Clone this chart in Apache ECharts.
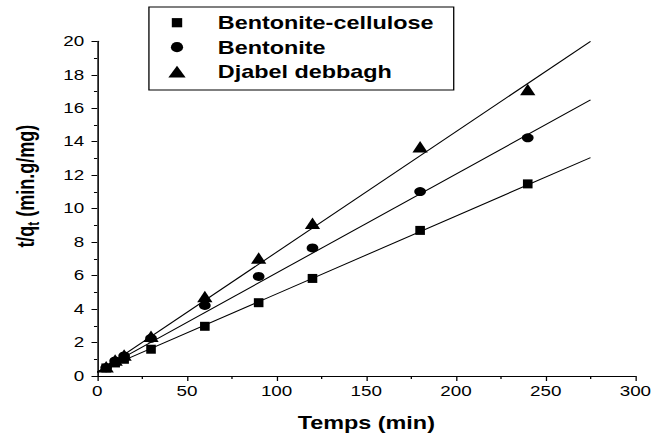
<!DOCTYPE html>
<html>
<head>
<meta charset="utf-8">
<script src="https://cdn.jsdelivr.net/npm/echarts@6/dist/echarts.min.js"></script>
<style>
  html, body { margin: 0; padding: 0; background: #fff; overflow: hidden; }
  #wrap { position: absolute; left: 0; top: 0; width: 655px; height: 437px; overflow: hidden; }
  /* the figure is drawn on a narrower canvas and widened horizontally */
  #chart { position: absolute; left: 0; top: 0; width: 504px; height: 437px;
           transform: scaleX(1.2996); transform-origin: 0 0; }
</style>
</head>
<body>
<div id="wrap"><div id="chart"></div></div>
<script>
// contact time (min)
const times = [5, 10, 15, 30, 60, 90, 120, 180, 240];

// t/qt (min.g/mg) measured for each adsorbent
const bentoniteCellulose = [0.48, 0.78, 1.0, 1.6, 2.97, 4.38, 5.83, 8.7, 11.48];
const bentonite = [0.5, 0.9, 1.2, 2.25, 4.22, 5.95, 7.65, 11.02, 14.23];
const djabelDebbagh = [0.55, 0.95, 1.25, 2.38, 4.75, 7.05, 9.13, 13.7, 17.12];

// pseudo-second-order linear fits, evaluated at the ends of the fitted range
const fitX = [0, 275];
const fitBentoniteCellulose = [0.25, 13.05];
const fitBentonite = [0.25, 16.5];
const fitDjabelDebbagh = [0.2, 20.0];

const seriesNames = ['Bentonite-cellulose', 'Bentonite', 'Djabel debbagh'];

const FONT = '"Liberation Sans", Arial, Helvetica, sans-serif';

function pairs(xs, ys) { return xs.map((x, i) => [x, ys[i]]); }

const chart = echarts.init(document.getElementById('chart'), null, { renderer: 'svg' });

const fitLine = (name, ys) => ({
  name: name,
  type: 'line',
  data: pairs(fitX, ys),
  symbol: 'none',
  silent: true,
  lineStyle: { color: '#000', width: 1 },
  z: 2
});

const points = (name, ys, symbol, size) => ({
  name: name,
  type: 'scatter',
  data: pairs(times, ys),
  symbol: symbol,
  symbolSize: size,
  symbolKeepAspect: false,
  itemStyle: { color: '#000', opacity: 1 },
  z: 3
});

chart.setOption({
  animation: false,
  backgroundColor: '#fff',
  grid: { left: 71, right: 12.5, top: 41.3, bottom: 59.3 },
  legend: {
    orient: 'vertical',
    align: 'left',
    left: 114.6,
    top: 7,
    padding: [5.7, 15.5, 8.3, 8],
    itemWidth: 40,
    itemHeight: 12,
    itemGap: 4.5,
    symbolKeepAspect: true,
    borderColor: '#000',
    borderWidth: 1,
    selectedMode: false,
    itemStyle: { opacity: 1 },
    textStyle: { color: '#000', fontFamily: FONT, fontWeight: 'bold', fontSize: 18, lineHeight: 20 },
    data: [
      { name: seriesNames[0], icon: 'path://M0,0M40,12M9.6,1.4h8v9.2h-8z' },
      { name: seriesNames[1], icon: 'path://M0,0M40,12M8.9,6a4.7,5.1 0 1,0 9.4,0a4.7,5.1 0 1,0 -9.4,0z' },
      { name: seriesNames[2], icon: 'path://M0,0M40,12M6.95,11.85L13.6,0.15L20.25,11.85z' }
    ]
  },
  xAxis: {
    type: 'value',
    min: 0, max: 300, interval: 50,
    name: 'Temps (min)',
    nameLocation: 'middle',
    nameGap: 38,
    nameTextStyle: { color: '#000', fontFamily: FONT, fontWeight: 'bold', fontSize: 18 },
    axisLine: { show: true, onZero: false, lineStyle: { color: '#000', width: 1.2 } },
    axisTick: { show: true, inside: false, length: 5, lineStyle: { color: '#000', width: 1 } },
    minorTick: { show: true, splitNumber: 2, length: 3, lineStyle: { color: '#000', width: 1 } },
    splitLine: { show: false },
    axisLabel: { color: '#000', fontFamily: FONT, fontSize: 14.5, margin: 8 }
  },
  yAxis: {
    type: 'value',
    min: 0, max: 20, interval: 2,
    name: '{a|t/q}{s|t}{a| (min.g/mg)}',
    nameLocation: 'middle',
    nameGap: 42.8,
    nameTextStyle: {
      padding: [0, 0, 0, 45],
      rich: {
        a: { color: '#000', fontFamily: FONT, fontWeight: 'bold', fontSize: 18, lineHeight: 24 },
        s: { color: '#000', fontFamily: FONT, fontWeight: 'bold', fontSize: 12, lineHeight: 12, padding: [12, 0, 0, 0] }
      }
    },
    axisLine: { show: true, onZero: false, lineStyle: { color: '#000', width: 1.2 } },
    axisTick: { show: true, inside: false, length: 4.4, lineStyle: { color: '#000', width: 1 } },
    minorTick: { show: true, splitNumber: 2, length: 2.5, lineStyle: { color: '#000', width: 1 } },
    splitLine: { show: false },
    axisLabel: { color: '#000', fontFamily: FONT, fontSize: 14.5, margin: 10 }
  },
  series: [
    fitLine('Bentonite-cellulose fit', fitBentoniteCellulose),
    fitLine('Bentonite fit', fitBentonite),
    fitLine('Djabel debbagh fit', fitDjabelDebbagh),
    points(seriesNames[0], bentoniteCellulose, 'rect', [7.4, 9]),
    points(seriesNames[1], bentonite, 'circle', 9),
    points(seriesNames[2], djabelDebbagh, 'triangle', [11.8, 11.5])
  ]
});
</script>
</body>
</html>
